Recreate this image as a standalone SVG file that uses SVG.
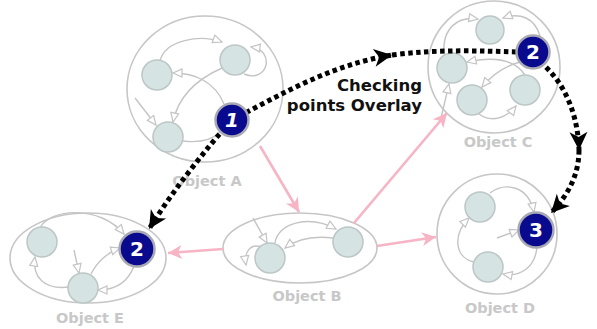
<svg xmlns="http://www.w3.org/2000/svg" width="597" height="329" viewBox="0 0 597 329">
<style>
.box{fill:#ffffff;stroke:#c6c6c6;stroke-width:1.6}
.nd{fill:#d6e3e3;stroke:#bcc6c6;stroke-width:1.5}
.ia{fill:none;stroke:#c4c4c4;stroke-width:1.4;marker-end:url(#hollow)}
.il{fill:none;stroke:#c4c4c4;stroke-width:1.4}
.lbl{font-family:"DejaVu Sans",Verdana,sans-serif;font-weight:bold;font-size:14.5px;fill:#c8c8c8;text-anchor:middle}
.pk{fill:none;stroke:#f6b4c4;stroke-width:2.6;marker-end:url(#pinkhead)}
.dot{fill:none;stroke:#000;stroke-width:5;stroke-dasharray:4.5 3.5}
.dh{marker-end:url(#blackhead)}
.bd{fill:#0a0a8e;stroke:#a9a9b4;stroke-width:2.5}
.bt{font-family:"DejaVu Sans",Verdana,sans-serif;font-weight:bold;font-size:20px;fill:#fff;text-anchor:middle}
.ov{font-family:"DejaVu Sans",Verdana,sans-serif;font-weight:bold;font-size:16.5px;fill:#111;text-anchor:end}
</style>
<defs>
<marker id="hollow" markerUnits="userSpaceOnUse" markerWidth="12" markerHeight="12" refX="10" refY="5" orient="auto" overflow="visible">
<path d="M1 1 L10 5 L1 9 Z" fill="#fff" stroke="#c4c4c4" stroke-width="1.2"/>
</marker>
<marker id="pinkhead" markerUnits="userSpaceOnUse" markerWidth="16" markerHeight="14" refX="14" refY="7" orient="auto" overflow="visible">
<path d="M14 7 L0 0 L4 7 L0 14 Z" fill="#f6b4c4"/>
</marker>
<marker id="blackhead" markerUnits="userSpaceOnUse" markerWidth="20" markerHeight="18" refX="18" refY="9" orient="auto" overflow="visible">
<path d="M18 9 L0 0 L5 9 L0 18 Z" fill="#000"/>
</marker>
</defs>
<rect width="597" height="329" fill="#fff"/>

<g id="objA">
<ellipse class="box" cx="205" cy="89" rx="78" ry="73"/>
<path class="ia" d="M160 61 C165 40 200 34 222 42"/>
<path class="ia" d="M244 74 C268 84 276 50 251 47"/>
<path class="ia" d="M224 104 C215 82 195 73 173 73"/>
<path class="ia" d="M222 68 C195 80 178 97 173 122"/>
<path class="ia" d="M135 98 L156 125"/>
<path class="il" d="M183 141 C200 143 212 140 220 132"/>
<circle class="nd" cx="157" cy="75" r="15"/>
<circle class="nd" cx="235" cy="60" r="15"/>
<circle class="nd" cx="168" cy="137" r="15"/>
<text class="lbl" x="207" y="186">Object A</text>
</g>

<g id="objC">
<circle class="box" cx="494" cy="67" r="66"/>
<path class="ia" d="M444 54 C442 28 458 16 478 19"/>
<path class="ia" d="M540 36 C535 18 520 12 503 18"/>
<path class="ia" d="M525 75 C515 60 495 56 467 62"/>
<path class="ia" d="M520 62 C505 66 492 75 482 87"/>
<path class="ia" d="M479 114 C490 122 505 120 516 106"/>
<path class="ia" d="M441 118 L449 84"/>
<circle class="nd" cx="490" cy="30" r="14"/>
<circle class="nd" cx="452" cy="68" r="15"/>
<circle class="nd" cx="472" cy="100" r="15"/>
<circle class="nd" cx="525" cy="90" r="15"/>
<text class="lbl" x="498" y="147">Object C</text>
</g>

<g id="objD">
<circle class="box" cx="497" cy="234" r="60"/>
<path class="ia" d="M490 193 C505 182 528 185 534 212"/>
<path class="ia" d="M474 262 C455 258 452 235 469 218"/>
<path class="ia" d="M537 247 C535 268 520 277 503 274"/>
<path class="ia" d="M497 238 L519 230"/>
<circle class="nd" cx="480" cy="207" r="15"/>
<circle class="nd" cx="488" cy="267" r="15"/>
<text class="lbl" x="500" y="313">Object D</text>
</g>

<g id="objE">
<ellipse class="box" cx="88" cy="258" rx="78" ry="45"/>
<path class="ia" d="M40 228 C50 208 100 205 124 234"/>
<path class="ia" d="M69 287 C45 290 32 278 35 257"/>
<path class="ia" d="M74 250 L79 273"/>
<path class="ia" d="M91 274 C97 262 108 252 120 248"/>
<path class="ia" d="M134 266 C128 282 115 290 98 290"/>
<circle class="nd" cx="42" cy="242" r="15"/>
<circle class="nd" cx="83" cy="288" r="15"/>
<text class="lbl" x="90" y="323">Object E</text>
</g>

<g id="objB">
<ellipse class="box" cx="300" cy="248" rx="77" ry="35"/>
<path class="ia" d="M275 243 C278 222 310 215 336 229"/>
<path class="ia" d="M333 238 C315 236 298 238 285 248"/>
<path class="ia" d="M253 218 L267 243"/>
<path class="ia" d="M262 247 C250 243 244 252 246 265"/>
<circle class="nd" cx="270" cy="258" r="15"/>
<circle class="nd" cx="348" cy="242" r="15"/>
<text class="lbl" x="307" y="301">Object B</text>
</g>

<g id="connectors">
<path class="pk" d="M260 146 L299 212"/>
<path class="pk" d="M354 223 L447 113"/>
<path class="pk" d="M223 249 L168 253"/>
<path class="pk" d="M377 246 L436 237"/>
<path class="dot dh" d="M230 122 C205 150 172 192 149 229"/>
<path class="dot dh" d="M232 120 C280 95 330 65 392 55"/>
<path class="dot" d="M392 55 C440 49 480 51 520 52"/>
<path class="dot dh" d="M540 62 C565 82 578 115 579 150"/>
<path class="dot dh" d="M579 150 C579 175 568 195 551 213"/>
</g>

<g id="badge1">
<circle class="bd" cx="232" cy="120" r="16.5"/>
<text class="bt" x="232" y="127" font-style="italic">1</text>
</g>
<g id="badge2c">
<circle class="bd" cx="533" cy="52" r="16.5"/>
<text class="bt" x="533" y="59">2</text>
</g>
<g id="badge3">
<circle class="bd" cx="536" cy="230" r="17.5"/>
<text class="bt" x="536" y="237">3</text>
</g>
<g id="badge2e">
<circle class="bd" cx="137" cy="249" r="17.5"/>
<text class="bt" x="137" y="256">2</text>
</g>

<g id="overlayLabel">
<text class="ov" x="422" y="91">Checking</text>
<text class="ov" x="422" y="111">points Overlay</text>
</g>
</svg>
